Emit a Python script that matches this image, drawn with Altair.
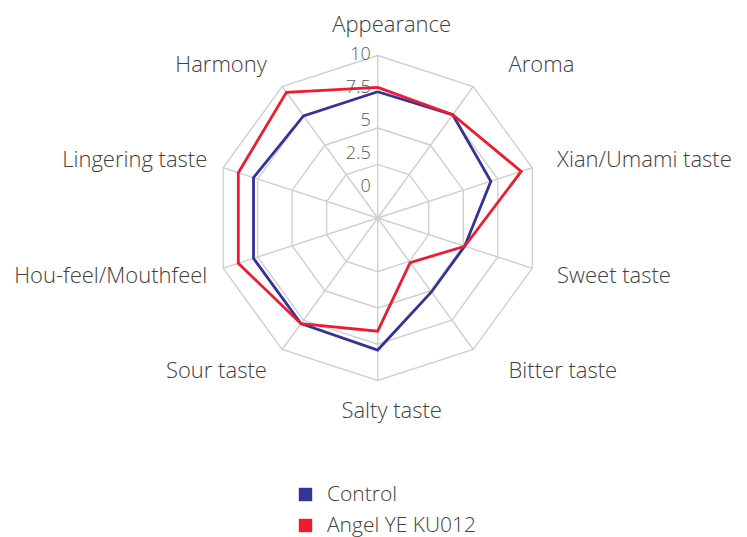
import altair as alt
import pandas as pd

categories = ["Appearance", "Aroma", "Xian/Umami taste", "Sweet taste", "Bitter taste",
              "Salty taste", "Sour taste", "Hou-feel/Mouthfeel", "Lingering taste", "Harmony"]
control = [7.5, 7.6, 7.0, 5.1, 5.1, 7.9, 7.8, 7.8, 7.8, 7.5]
angel = [7.8, 7.6, 9.2, 5.1, 2.6, 6.6, 7.8, 8.9, 8.9, 9.5]
series_names = ["Control", "Angel YE KU012"]
series_colors = ["#333399", "#EE1C2E"]
ring_levels = [2.5, 5, 7.5, 10]
tick_values = [0, 2.5, 5, 7.5, 10]
tick_labels = ["0", "2.5", "5", "7.5", "10"]
axis_min = -1.2
axis_max = 10

N = len(categories)

rows = []
for s, vals in zip(series_names, [control, angel]):
    for i in range(N + 1):
        rows.append({"series": s, "idx": i, "cat": categories[i % N], "value": vals[i % N]})
series_df = pd.DataFrame(rows)

ring_df = pd.DataFrame([{"level": lv, "idx": i, "value": lv} for lv in ring_levels for i in range(N + 1)])
spoke_df = pd.DataFrame([{"idx": i, "value": axis_max} for i in range(N)])

label_df = pd.DataFrame([{"idx": i, "cat": categories[i],
                          "side": ("left" if i in (1, 2, 3, 4) else "right" if i in (6, 7, 8, 9) else "center")}
                         for i in range(N)])
tick_df = pd.DataFrame({"value": tick_values, "label": tick_labels})

W, H = 731, 529
k = 14.51
cx, cy = 369.7, 210.0
xdom = [-cx / k, (W - cx) / k]
ydom = [-(H - cy) / k, cy / k]

xs = alt.Scale(domain=xdom, nice=False, zero=False)
ys = alt.Scale(domain=ydom, nice=False, zero=False)

ANG = "datum.idx * 2 * PI / %d" % N
RAD = "(datum.value - (%s))" % axis_min

FONT = "Open Sans"
TXT = "#404040"


def polar(ch, radexpr=RAD):
    return ch.transform_calculate(
        ang=ANG, rad=radexpr
    ).transform_calculate(
        px="datum.rad * sin(datum.ang)", py="datum.rad * cos(datum.ang)"
    )


grid_color = "#D0D0D0"

rings = polar(alt.Chart(ring_df).mark_line(color=grid_color, strokeWidth=1.4)).encode(
    x=alt.X("px:Q", scale=xs, axis=None),
    y=alt.Y("py:Q", scale=ys, axis=None),
    detail="level:N",
    order="idx:Q",
)

spokes = polar(alt.Chart(spoke_df).mark_rule(color=grid_color, strokeWidth=1.4)).transform_calculate(
    zero="0"
).encode(
    x=alt.X("zero:Q", scale=xs, axis=None),
    y=alt.Y("zero:Q", scale=ys, axis=None),
    x2="px:Q",
    y2="py:Q",
)

color_scale = alt.Scale(domain=series_names, range=series_colors)
legend_def = alt.Legend(title=None, orient="none", legendX=287, legendY=476,
                        symbolType="square", symbolSize=180, symbolStrokeWidth=0, symbolOpacity=1,
                        labelFontSize=21, labelFont=FONT, labelFontWeight=300,
                        labelColor=TXT, labelOffset=11, rowPadding=9, padding=0)

legend_layer = polar(alt.Chart(series_df).mark_square(filled=True, size=0, opacity=1)).encode(
    x=alt.X("px:Q", scale=xs, axis=None),
    y=alt.Y("py:Q", scale=ys, axis=None),
    color=alt.Color("series:N", scale=color_scale, legend=legend_def),
)

lines = polar(alt.Chart(series_df).mark_line(strokeWidth=2.8, strokeJoin="miter")).encode(
    x=alt.X("px:Q", scale=xs, axis=None),
    y=alt.Y("py:Q", scale=ys, axis=None),
    color=alt.Color("series:N", scale=color_scale),
    detail="series:N",
    order="idx:Q",
)

lab_font = dict(font=FONT, fontSize=22, fontWeight=300, color=TXT)


def label_layer(sd, align, radexpr, nudge_expr):
    return alt.Chart(label_df).transform_filter("datum.side == '%s'" % sd).transform_calculate(
        ang=ANG, rad=radexpr
    ).transform_calculate(
        px="datum.rad * sin(datum.ang) + (%s) / %f" % (nudge_expr, k),
        py="datum.rad * cos(datum.ang)"
    ).mark_text(align=align, baseline="middle", **lab_font).encode(
        x=alt.X("px:Q", scale=xs, axis=None),
        y=alt.Y("py:Q", scale=ys, axis=None),
        text="cat:N",
    )


lab_left = label_layer("left", "left", "13.0", "abs(cos(datum.ang)) > 0.5 ? 20 : 0")
lab_right = label_layer("right", "right", "13.0", "abs(cos(datum.ang)) < 0.5 ? 9 : 0")
lab_center = label_layer("center", "center", "13.3", "14")

ticks = alt.Chart(tick_df).transform_calculate(
    rad="2.14 + 0.909 * datum.value", zero="0"
).mark_text(align="right", baseline="middle", dx=-7, font=FONT, fontWeight=300, fontSize=18,
            color="#595959").encode(
    x=alt.X("zero:Q", scale=xs, axis=None),
    y=alt.Y("rad:Q", scale=ys, axis=None),
    text="label:N",
)

chart = alt.layer(legend_layer, rings, spokes, lines, ticks, lab_left, lab_right, lab_center).properties(
    width=W, height=H, autosize="none", padding=0, background="white"
).configure_view(stroke=None)

chart.save("out.html", embed_options={"renderer": "svg", "actions": False})
